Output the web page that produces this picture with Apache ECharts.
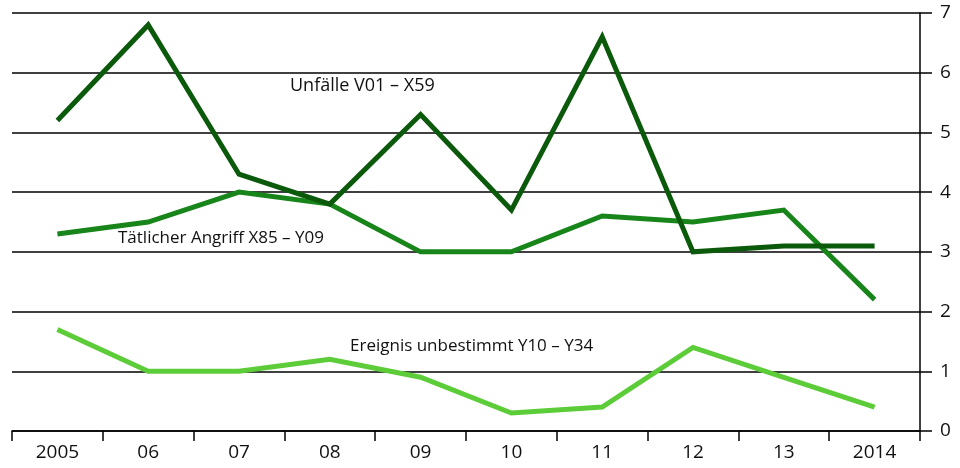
<!DOCTYPE html>
<html>
<head>
<meta charset="utf-8">
<script src="https://cdn.jsdelivr.net/npm/echarts@6/dist/echarts.min.js"></script>
<style>
html, body { margin: 0; padding: 0; background: #fff; }
#chart { width: 960px; height: 468px; }
</style>
</head>
<body>
<div id="chart"></div>
<script>
var years = ['2005', '06', '07', '08', '09', '10', '11', '12', '13', '2014'];
var unfaelle = [5.2, 6.8, 4.3, 3.8, 5.3, 3.7, 6.6, 3.0, 3.1, 3.1];
var angriff = [3.3, 3.5, 4.0, 3.8, 3.0, 3.0, 3.6, 3.5, 3.7, 2.2];
var ereignis = [1.7, 1.0, 1.0, 1.2, 0.9, 0.3, 0.4, 1.4, 0.9, 0.4];
var fontName = 'Open Sans';

var myChart = echarts.init(document.getElementById('chart'));

function lineSeries(name, data, color) {
	return {
		name: name,
		type: 'line',
		data: data,
		symbol: 'none',
		lineStyle: { color: color, width: 5, cap: 'butt', join: 'miter' },
		z: 3
	};
}

var option = {
	animation: false,
	backgroundColor: '#fff',
	grid: { left: 12, right: 40, top: 13, bottom: 37 },
	xAxis: {
		type: 'category',
		data: years,
		boundaryGap: true,
		axisLine: { lineStyle: { color: '#000', width: 1.5 } },
		axisTick: { show: true, length: 10, lineStyle: { color: '#000', width: 1.5 } },
		axisLabel: { color: '#111', fontFamily: fontName, fontSize: 19, margin: 12 },
		splitLine: { show: false }
	},
	yAxis: {
		type: 'value',
		position: 'right',
		min: 0,
		max: 7,
		interval: 1,
		axisLine: { show: true, lineStyle: { color: '#000', width: 1.5 } },
		axisTick: { show: true, length: 12, lineStyle: { color: '#000', width: 1.5 } },
		axisLabel: { color: '#111', fontFamily: fontName, fontSize: 19, margin: 20 },
		splitLine: { show: true, lineStyle: { color: '#000', width: 1.5 } }
	},
	series: [
		lineSeries('Ereignis unbestimmt Y10 – Y34', ereignis, '#5ccd38'),
		lineSeries('Tätlicher Angriff X85 – Y09', angriff, '#17851a'),
		lineSeries('Unfälle V01 – X59', unfaelle, '#0b5a0b')
	],
	graphic: [
		{ type: 'text', left: 290, top: 77, style: { text: 'Unfälle V01 – X59', fontFamily: fontName, fontSize: 18, fill: '#111' } },
		{ type: 'text', left: 118, top: 230, style: { text: 'Tätlicher Angriff X85 – Y09', fontFamily: fontName, fontSize: 17, fill: '#111' } },
		{ type: 'text', left: 350, top: 338, style: { text: 'Ereignis unbestimmt Y10 – Y34', fontFamily: fontName, fontSize: 17, fill: '#111' } }
	]
};
myChart.setOption(option);
</script>
</body>
</html>
